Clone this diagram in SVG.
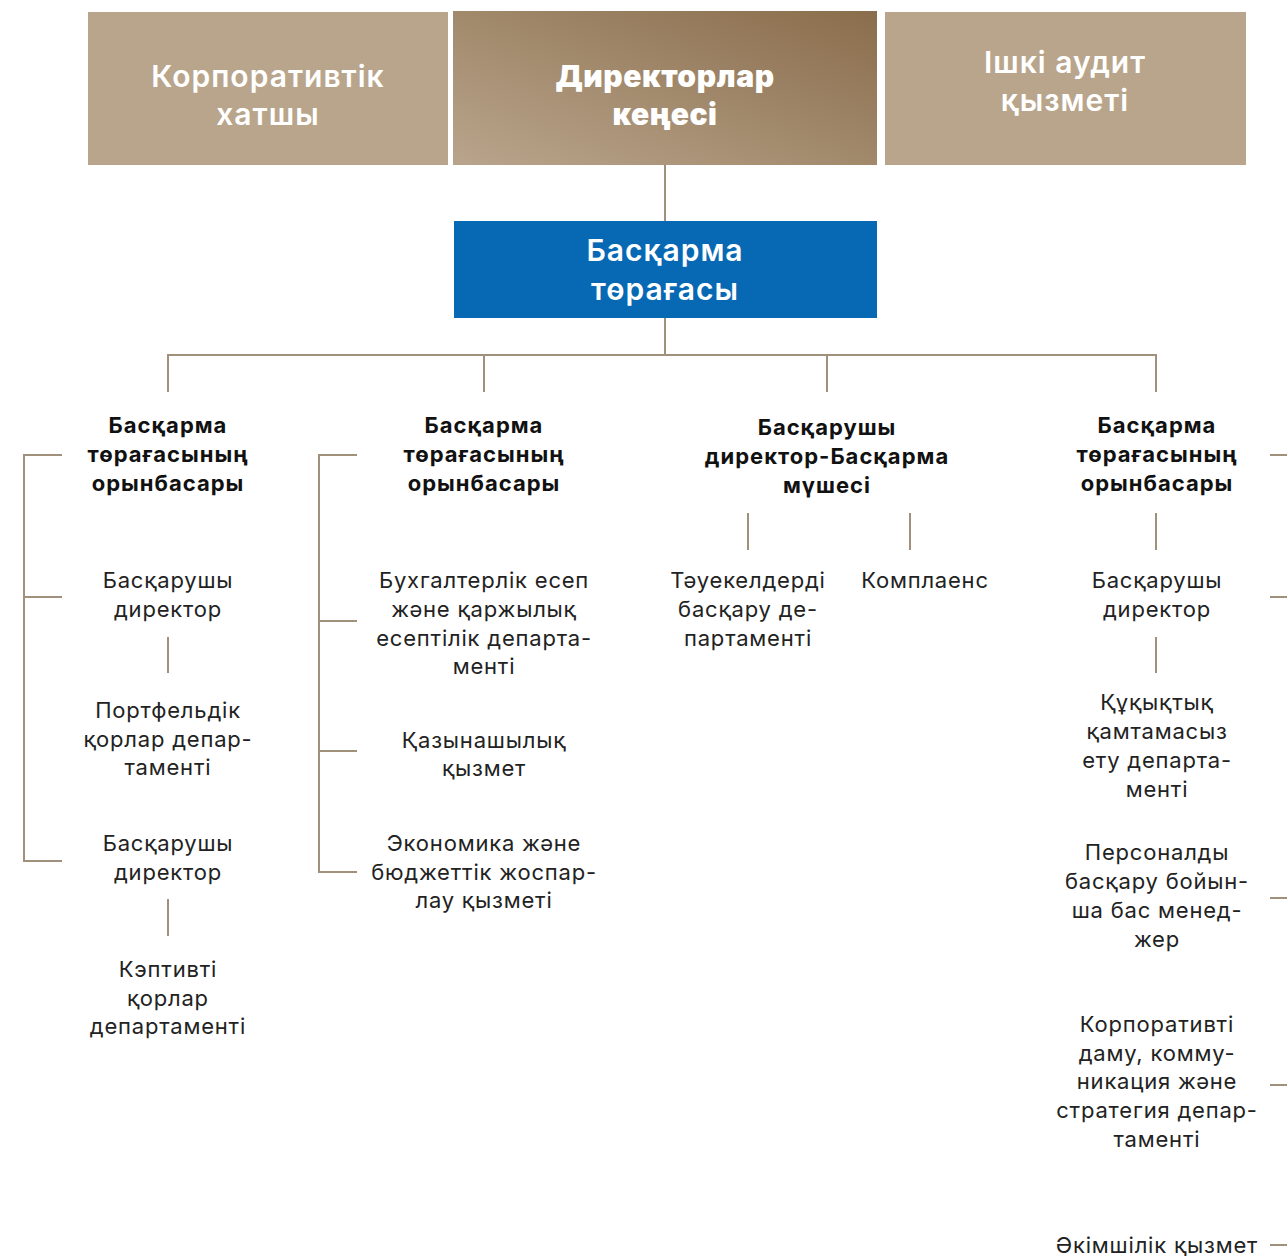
<svg xmlns="http://www.w3.org/2000/svg" width="1287" height="1256" viewBox="0 0 1287 1256">
<defs>
<linearGradient id="g1" x1="0" y1="1" x2="1" y2="0">
<stop offset="0" stop-color="#b9a58c"/>
<stop offset="1" stop-color="#8a6d4c"/>
</linearGradient>
<style>
.box{fill:#b9a58c}
.wt{fill:#ffffff;font-family:Inter,"Noto Sans",sans-serif;font-size:30px;text-anchor:middle;font-weight:600;letter-spacing:1px}
.bk{font-weight:900;letter-spacing:0.6px}
.hd{fill:#111111;font-family:Inter,"Noto Sans",sans-serif;font-size:22px;font-weight:700;text-anchor:middle;letter-spacing:1px}
.tx{fill:#222222;font-family:Inter,"Noto Sans",sans-serif;font-size:22px;text-anchor:middle;letter-spacing:0.8px}
.ln{stroke:#a1907b;stroke-width:2;fill:none}
</style>
</defs>
<rect width="1287" height="1256" fill="#ffffff"/>
<g id="connectors" class="ln">
<path d="M665 165V355M168 392V355H1156V392M484 355V392M827 355V392"/>
<path d="M62 455H24V861H62M24 597H62"/>
<path d="M357 455H319V872H357M319 621H357M319 751H357"/>
<path d="M168 637V673M168 899V936"/>
<path d="M748 513V550M910 513V550"/>
<path d="M1156 513V550M1156 637V673"/>
<path d="M1270 455H1287M1270 597H1287M1270 898H1287M1270 1085H1287M1270 1245H1287"/>
</g>
<g id="corp-secretary"><rect class="box" x="88" y="12" width="360" height="153"/><text class="wt" x="268" y="87">Корпоративтік</text><text class="wt" x="268" y="125">хатшы</text></g>
<g id="board"><rect fill="url(#g1)" x="453" y="11" width="424" height="154"/><text class="wt bk" x="665" y="87">Директорлар</text><text class="wt bk" x="665" y="125">кеңесі</text></g>
<g id="audit"><rect class="box" x="885" y="12" width="361" height="153"/><text class="wt" x="1065" y="73">Ішкі аудит</text><text class="wt" x="1065" y="111">қызметі</text></g>
<g id="chairman"><rect fill="#0769b4" x="454" y="221" width="423" height="97"/><text class="wt" x="665" y="261">Басқарма</text><text class="wt" x="665" y="300">төрағасы</text></g>

<g id="deputy1"><text class="hd" x="168" y="433">Басқарма</text><text class="hd" x="168" y="462">төрағасының</text><text class="hd" x="168" y="491">орынбасары</text></g>
<g id="md1"><text class="tx" x="168" y="588">Басқарушы</text><text class="tx" x="168" y="617">директор</text></g>
<g id="portfolio"><text class="tx" x="168" y="718">Портфельдік</text><text class="tx" x="168" y="747">қорлар депар-</text><text class="tx" x="168" y="775">таменті</text></g>
<g id="md2"><text class="tx" x="168" y="851">Басқарушы</text><text class="tx" x="168" y="880">директор</text></g>
<g id="captive"><text class="tx" x="168" y="977">Кэптивті</text><text class="tx" x="168" y="1006">қорлар</text><text class="tx" x="168" y="1034">департаменті</text></g>

<g id="deputy2"><text class="hd" x="484" y="433">Басқарма</text><text class="hd" x="484" y="462">төрағасының</text><text class="hd" x="484" y="491">орынбасары</text></g>
<g id="accounting"><text class="tx" x="484" y="588">Бухгалтерлік есеп</text><text class="tx" x="484" y="617">және қаржылық</text><text class="tx" x="484" y="646">есептілік департа-</text><text class="tx" x="484" y="674">менті</text></g>
<g id="treasury"><text class="tx" x="484" y="748">Қазынашылық</text><text class="tx" x="484" y="776">қызмет</text></g>
<g id="economics"><text class="tx" x="484" y="851">Экономика және</text><text class="tx" x="484" y="880">бюджеттік жоспар-</text><text class="tx" x="484" y="908">лау қызметі</text></g>

<g id="md-member"><text class="hd" x="827" y="435">Басқарушы</text><text class="hd" x="827" y="464">директор-Басқарма</text><text class="hd" x="827" y="493">мүшесі</text></g>
<g id="risk"><text class="tx" x="748" y="588">Тәуекелдерді</text><text class="tx" x="748" y="617">басқару де-</text><text class="tx" x="748" y="646">партаменті</text></g>
<g id="compliance"><text class="tx" x="925" y="588">Комплаенс</text></g>

<g id="deputy3"><text class="hd" x="1157" y="433">Басқарма</text><text class="hd" x="1157" y="462">төрағасының</text><text class="hd" x="1157" y="491">орынбасары</text></g>
<g id="md3"><text class="tx" x="1157" y="588">Басқарушы</text><text class="tx" x="1157" y="617">директор</text></g>
<g id="legal"><text class="tx" x="1157" y="710">Құқықтық</text><text class="tx" x="1157" y="739">қамтамасыз</text><text class="tx" x="1157" y="768">ету департа-</text><text class="tx" x="1157" y="797">менті</text></g>
<g id="hr"><text class="tx" x="1157" y="860">Персоналды</text><text class="tx" x="1157" y="889">басқару бойын-</text><text class="tx" x="1157" y="918">ша бас менед-</text><text class="tx" x="1157" y="947">жер</text></g>
<g id="corpdev"><text class="tx" x="1157" y="1032">Корпоративті</text><text class="tx" x="1157" y="1061">даму, комму-</text><text class="tx" x="1157" y="1089">никация және</text><text class="tx" x="1157" y="1118">стратегия депар-</text><text class="tx" x="1157" y="1147">таменті</text></g>
<g id="admin"><text class="tx" x="1157" y="1253">Әкімшілік қызмет</text></g>
</svg>
